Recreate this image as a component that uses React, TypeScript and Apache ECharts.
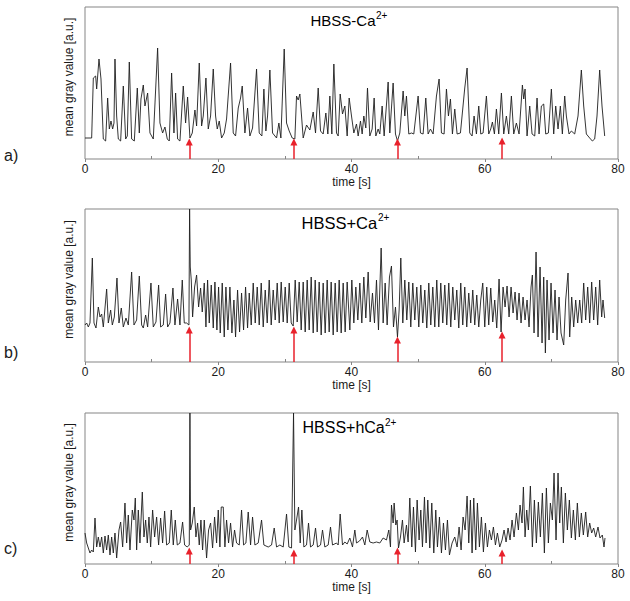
import React, { useEffect, useRef } from "react";
import * as echarts from "echarts";

const timeTicks = [0, 20, 40, 60, 80];
const minorTimeTicks = [10, 30, 50, 70];
const arrowTimes = [15.65, 31.35, 46.9, 62.6];
const arrowTipsA = [17, 17, 17, 18];
const arrowTipsB = [32, 32, 22, 27];
const arrowTipsC = [13, 11, 13, 11];
const titleTexts = ["HBSS-Ca", "HBSS+Ca", "HBSS+hCa"];
const titleSup = "2+";
const panelLetters = ["a)", "b)", "c)"];
const xName = "time [s]";
const yName = "mean gray value [a.u.]";

// panel a: HBSS-Ca2+  [time s, mean gray value a.u.]
const panelA: [number, number][] = [
  [0, 21], [1.0, 21], [1.25, 81], [1.6, 83], [1.75, 70], [2.1, 100], [2.4, 80], [2.75, 20], [3.1, 18], [3.4, 61],
  [3.65, 30], [3.9, 38], [4.15, 30], [4.35, 36], [4.5, 100], [4.75, 43], [5.0, 20], [5.35, 18], [5.75, 73], [6.1, 20],
  [6.35, 23], [6.65, 97], [7.0, 20], [7.4, 18], [7.85, 71], [8.15, 26], [8.4, 60], [8.75, 74], [9.0, 53], [9.4, 66],
  [9.75, 26], [10.25, 20], [10.9, 111], [11.25, 36], [11.65, 26], [12.0, 32], [12.35, 20], [12.65, 18], [13.0, 86], [13.35, 26],
  [13.6, 66], [13.9, 20], [14.25, 18], [14.75, 73], [15.1, 36], [15.4, 62], [15.75, 21], [16.1, 26], [16.5, 49], [16.75, 33],
  [17.15, 96], [17.5, 33], [17.75, 43], [18.15, 81], [18.5, 30], [18.85, 43], [19.25, 90], [19.6, 43], [19.85, 30], [20.15, 38],
  [20.5, 21], [20.9, 26], [21.25, 40], [21.85, 96], [22.25, 26], [22.6, 23], [23.0, 51], [23.35, 61], [23.6, 73], [24.0, 26],
  [24.4, 51], [24.75, 23], [25.15, 31], [25.75, 90], [26.15, 26], [26.55, 23], [26.85, 70], [27.15, 28], [27.4, 43], [27.75, 89],
  [28.15, 26], [28.75, 21], [29.1, 36], [29.4, 21], [29.9, 110], [30.25, 36], [30.65, 28], [31.1, 21], [31.5, 20], [31.75, 63],
  [32.0, 59], [32.25, 65], [32.5, 43], [32.75, 21], [33.25, 34], [33.75, 29], [34.25, 47], [34.6, 26], [35.0, 71], [35.35, 28],
  [35.75, 25], [36.15, 46], [36.45, 25], [36.75, 63], [37.05, 25], [37.35, 95], [37.75, 26], [38.0, 23], [38.3, 65], [38.65, 45],
  [39.0, 53], [39.35, 23], [39.65, 61], [40.0, 43], [40.35, 26], [40.75, 35], [41.0, 23], [41.35, 38], [41.6, 25], [41.85, 43],
  [42.15, 31], [42.4, 71], [42.75, 23], [43.1, 30], [43.4, 61], [43.65, 23], [44.0, 30], [44.25, 25], [44.6, 53], [44.9, 23],
  [45.5, 77], [45.75, 26], [46.25, 76], [46.6, 25], [46.9, 18], [47.25, 26], [47.75, 68], [48.0, 43], [48.25, 63], [48.6, 25],
  [49.0, 26], [49.35, 25], [50.0, 63], [50.35, 26], [50.75, 25], [51.15, 61], [51.5, 25], [51.85, 30], [52.25, 25], [52.75, 63],
  [53.15, 80], [53.5, 26], [53.9, 25], [54.25, 70], [54.55, 43], [54.85, 60], [55.15, 25], [55.5, 50], [55.85, 25], [56.35, 26],
  [57.0, 71], [57.35, 91], [57.75, 26], [58.1, 23], [58.4, 43], [58.75, 25], [59.1, 53], [59.4, 25], [59.75, 26], [60.25, 63],
  [60.6, 25], [60.9, 30], [61.15, 37], [61.45, 25], [61.75, 50], [62.1, 25], [62.5, 66], [62.85, 25], [63.25, 43], [63.6, 25],
  [64.0, 63], [64.35, 25], [64.75, 36], [65.15, 25], [65.65, 74], [65.85, 60], [66.05, 70], [66.35, 23], [66.75, 53], [67.1, 25],
  [67.5, 23], [67.85, 61], [68.15, 25], [68.5, 53], [68.85, 55], [69.15, 25], [69.55, 26], [70.0, 70], [70.35, 25], [70.65, 53],
  [71.0, 30], [71.35, 53], [71.65, 25], [72.0, 63], [72.25, 43], [72.65, 25], [73.0, 28], [73.5, 25], [74.0, 43], [74.5, 89],
  [74.85, 53], [75.25, 25], [75.75, 21], [76.15, 18], [76.5, 20], [76.85, 43], [77.25, 89], [77.6, 53], [78.0, 23],
];

// panel b: HBSS+Ca2+
const panelB: [number, number][] = [
  [0, 37], [0.25, 39], [0.5, 35], [0.75, 39], [1.1, 104], [1.35, 39], [1.65, 34], [2.0, 55], [2.25, 45], [2.5, 48],
  [2.75, 35], [3.25, 73], [3.5, 39], [3.85, 52], [4.1, 37], [4.4, 45], [4.8, 84], [5.1, 39], [5.45, 54], [5.75, 35],
  [6.15, 44], [6.5, 37], [7.0, 90], [7.35, 37], [7.75, 42], [8.15, 86], [8.5, 37], [8.75, 34], [9.1, 47], [9.4, 35],
  [9.9, 79], [10.25, 35], [10.65, 40], [11.05, 77], [11.35, 35], [11.75, 37], [12.1, 68], [12.4, 35], [12.75, 39], [13.2, 74],
  [13.5, 37], [13.9, 63], [14.25, 37], [14.6, 82], [14.9, 39], [15.25, 39], [15.6, 37], [15.7, 153], [15.8, 95], [15.95, 82],
  [16.15, 45], [16.45, 75], [16.75, 87], [17.05, 55], [17.35, 74], [17.6, 50], [17.9, 79], [18.15, 35], [18.4, 82], [18.65, 39],
  [18.95, 77], [19.25, 34], [19.5, 80], [19.8, 32], [20.05, 75], [20.3, 29], [20.6, 79], [20.9, 25], [21.15, 75], [21.45, 32],
  [21.75, 75], [22.05, 29], [22.35, 62], [22.6, 25], [22.9, 72], [23.2, 30], [23.5, 69], [23.8, 32], [24.1, 75], [24.4, 34],
  [24.65, 69], [24.95, 37], [25.25, 79], [25.55, 39], [25.85, 75], [26.15, 37], [26.45, 79], [26.75, 35], [27.05, 72], [27.35, 39],
  [27.65, 82], [27.95, 37], [28.25, 72], [28.55, 42], [28.85, 79], [29.15, 39], [29.45, 80], [29.75, 40], [30.05, 75], [30.35, 39],
  [30.65, 79], [30.95, 39], [31.25, 36], [31.55, 82], [31.85, 40], [32.15, 80], [32.45, 32], [32.75, 80], [33.05, 30], [33.35, 82],
  [33.65, 32], [33.95, 85], [34.25, 29], [34.55, 82], [34.85, 30], [35.15, 80], [35.45, 27], [35.75, 79], [36.05, 29], [36.35, 82],
  [36.65, 30], [36.95, 80], [37.25, 27], [37.55, 79], [37.85, 30], [38.15, 82], [38.45, 29], [38.75, 79], [39.05, 30], [39.35, 80],
  [39.75, 32], [40.05, 82], [40.35, 39], [40.65, 75], [40.95, 42], [41.25, 79], [41.55, 39], [41.85, 85], [42.15, 44], [42.5, 90],
  [42.8, 40], [43.15, 69], [43.45, 39], [43.75, 82], [44.05, 32], [44.45, 114], [44.75, 39], [45.05, 79], [45.35, 37], [45.7, 85],
  [46.0, 96], [46.3, 35], [46.6, 55], [46.9, 25], [47.15, 52], [47.4, 104], [47.7, 39], [48.0, 82], [48.3, 42], [48.6, 80],
  [48.9, 35], [49.2, 79], [49.5, 42], [49.8, 75], [50.1, 35], [50.4, 77], [50.7, 39], [51.0, 72], [51.3, 34], [51.6, 79],
  [51.9, 37], [52.2, 75], [52.5, 35], [52.8, 82], [53.1, 35], [53.4, 79], [53.7, 39], [54.0, 77], [54.3, 37], [54.6, 79],
  [54.9, 35], [55.2, 75], [55.5, 42], [55.8, 72], [56.1, 34], [56.4, 79], [56.7, 37], [57.0, 75], [57.3, 35], [57.6, 69],
  [57.9, 39], [58.2, 72], [58.5, 37], [58.8, 67], [59.1, 35], [59.4, 62], [59.7, 79], [60.0, 35], [60.3, 75], [60.6, 37],
  [60.9, 74], [61.2, 40], [61.5, 62], [61.8, 34], [62.15, 83], [62.45, 30], [62.75, 75], [63.05, 55], [63.35, 76], [63.65, 45],
  [63.95, 75], [64.25, 49], [64.55, 70], [64.85, 42], [65.15, 69], [65.45, 39], [65.75, 65], [66.05, 42], [66.35, 62], [66.65, 35],
  [66.95, 75], [67.15, 87], [67.4, 29], [67.7, 110], [68.0, 25], [68.3, 95], [68.6, 19], [68.85, 85], [69.1, 9], [69.35, 82],
  [69.65, 22], [69.95, 79], [70.25, 29], [70.55, 72], [70.85, 22], [71.15, 65], [71.45, 29], [71.85, 17], [72.15, 62], [72.5, 89],
  [72.75, 25], [73.05, 65], [73.35, 35], [73.65, 62], [73.95, 39], [74.25, 62], [74.55, 39], [74.85, 79], [75.15, 42], [75.45, 75],
  [75.75, 39], [76.05, 80], [76.35, 42], [76.65, 75], [76.95, 37], [77.25, 82], [77.55, 45], [77.75, 62], [78.0, 44],
];

// panel c: HBSS+hCa2+
const panelC: [number, number][] = [
  [0, 31], [0.25, 21], [0.75, 11], [1.0, 14], [1.25, 12], [1.5, 46], [1.75, 17], [2.0, 27], [2.25, 17], [2.5, 27],
  [2.75, 11], [3.0, 28], [3.25, 14], [3.5, 29], [3.75, 9], [4.0, 27], [4.25, 11], [4.5, 31], [4.75, 6], [5.1, 34],
  [5.35, 42], [5.65, 17], [6.0, 61], [6.25, 21], [6.5, 49], [6.75, 14], [7.1, 54], [7.35, 44], [7.55, 66], [7.75, 14],
  [8.0, 54], [8.25, 21], [8.6, 72], [8.85, 27], [9.1, 44], [9.35, 21], [9.6, 47], [9.85, 17], [10.15, 54], [10.45, 27],
  [10.75, 47], [11.05, 19], [11.35, 46], [11.65, 21], [11.95, 53], [12.25, 19], [12.65, 21], [12.95, 54], [13.25, 19], [13.55, 44],
  [13.85, 19], [14.25, 21], [14.65, 42], [14.95, 19], [15.35, 17], [15.65, 19], [15.75, 151], [15.85, 34], [16.1, 41], [16.4, 57],
  [16.65, 27], [16.9, 41], [17.15, 19], [17.4, 44], [17.65, 14], [17.9, 44], [18.25, 6], [18.55, 34], [18.85, 41], [19.15, 16],
  [19.45, 47], [19.75, 21], [20.0, 54], [20.25, 17], [20.45, 57], [20.75, 57], [21.0, 17], [21.25, 44], [21.55, 21], [21.85, 41],
  [22.15, 17], [22.45, 34], [22.75, 21], [23.15, 19], [23.5, 54], [23.8, 19], [24.15, 21], [24.5, 52], [24.85, 19], [25.15, 47],
  [25.5, 19], [26.0, 21], [26.5, 44], [26.85, 19], [27.5, 17], [28.0, 19], [28.4, 36], [28.75, 17], [29.25, 19], [29.75, 17],
  [30.25, 50], [30.6, 17], [31.0, 16], [31.3, 151], [31.5, 34], [31.75, 44], [32.05, 57], [32.3, 21], [32.55, 54], [32.85, 17],
  [33.25, 19], [33.55, 41], [33.85, 17], [34.25, 19], [34.6, 36], [34.9, 17], [35.35, 19], [35.65, 34], [36.0, 17], [36.5, 19],
  [36.85, 37], [37.15, 19], [37.75, 21], [38.0, 19], [38.3, 50], [38.65, 19], [39.0, 22], [39.35, 20], [39.75, 26], [40.15, 17],
  [40.5, 34], [40.75, 21], [41.2, 23], [41.65, 27], [42.0, 19], [42.35, 34], [42.75, 22], [43.25, 21], [43.75, 22], [44.25, 21],
  [44.75, 26], [45.25, 24], [45.6, 34], [45.85, 17], [46.0, 59], [46.25, 41], [46.4, 61], [46.65, 39], [46.85, 44], [47.05, 16],
  [47.35, 27], [47.65, 44], [47.9, 21], [48.25, 39], [48.5, 22], [48.75, 66], [49.05, 17], [49.3, 57], [49.6, 12], [49.85, 64],
  [50.15, 24], [50.4, 54], [50.65, 17], [50.95, 67], [51.2, 21], [51.45, 64], [51.75, 16], [52.05, 61], [52.35, 11], [52.65, 54],
  [52.9, 17], [53.2, 47], [53.5, 11], [53.8, 41], [54.1, 14], [54.4, 44], [54.7, 9], [55.1, 21], [55.5, 27], [55.85, 17],
  [56.15, 37], [56.45, 14], [56.75, 47], [57.05, 34], [57.35, 68], [57.6, 21], [57.85, 64], [58.1, 11], [58.35, 66], [58.65, 14],
  [58.9, 61], [59.2, 17], [59.5, 47], [59.8, 12], [60.1, 41], [60.4, 17], [60.7, 34], [61.0, 24], [61.3, 37], [61.6, 19],
  [61.9, 31], [62.25, 17], [62.6, 24], [62.9, 34], [63.2, 22], [63.5, 36], [63.8, 24], [64.1, 44], [64.4, 27], [64.75, 51],
  [65.05, 34], [65.3, 59], [65.6, 41], [65.8, 77], [66.05, 27], [66.3, 54], [66.55, 34], [66.85, 78], [67.15, 17], [67.45, 64],
  [67.75, 21], [68.05, 62], [68.35, 27], [68.65, 71], [68.95, 11], [69.25, 76], [69.55, 21], [69.85, 61], [70.15, 44], [70.4, 91],
  [70.7, 24], [71.0, 91], [71.25, 41], [71.5, 77], [71.8, 21], [72.1, 71], [72.4, 34], [72.7, 64], [73.0, 26], [73.3, 54],
  [73.6, 24], [73.9, 61], [74.2, 27], [74.5, 51], [74.8, 29], [75.15, 52], [75.45, 27], [75.75, 41], [76.05, 31], [76.35, 36],
  [76.65, 27], [77.0, 37], [77.3, 26], [77.65, 29], [77.9, 17], [78.05, 26],
];

const FONT = '"Liberation Sans", Arial, Helvetica, sans-serif';
const AXIS_COLOR = "#858585";
const TEXT_COLOR = "#1a1a1a";

export default function App() {
  const ref = useRef<HTMLDivElement>(null);

  useEffect(() => {
    if (!ref.current) return;
    const chart = echarts.init(ref.current, null, { renderer: "svg" });

    const layout = [
      { data: panelA, tips: arrowTipsA, top: 7, height: 152, tx: 310.5, ty: 20.5, fs: 15, supDx: 65.5, ly: 155 },
      { data: panelB, tips: arrowTipsB, top: 209, height: 153, tx: 301.5, ty: 222.5, fs: 16.5, supDx: 76.5, ly: 352 },
      { data: panelC, tips: arrowTipsC, top: 413, height: 151, tx: 302.5, ty: 427.5, fs: 16, supDx: 82.5, ly: 548 },
    ];
    const left = 85;
    const width = 533;

    const grids = layout.map((p) => ({
      left,
      top: p.top,
      width,
      height: p.height,
      show: true,
      borderColor: AXIS_COLOR,
      borderWidth: 1,
      backgroundColor: "transparent",
      containLabel: false,
    }));

    const xAxes: any[] = [];
    layout.forEach((p, i) => {
      xAxes.push({
        gridIndex: i,
        type: "value",
        min: timeTicks[0],
        max: timeTicks[timeTicks.length - 1],
        interval: 20,
        position: "bottom",
        axisLine: { show: false },
        axisTick: { show: true, inside: false, length: 3, lineStyle: { color: AXIS_COLOR } },
        axisLabel: { color: TEXT_COLOR, fontSize: 12, fontFamily: FONT, margin: 4 },
        splitLine: { show: false },
        name: xName,
        nameLocation: "middle",
        nameGap: 17,
        nameTextStyle: { color: TEXT_COLOR, fontSize: 12, fontFamily: FONT },
      });
      xAxes.push({
        gridIndex: i,
        type: "value",
        min: timeTicks[0],
        max: timeTicks[timeTicks.length - 1],
        position: "top",
        offset: -p.height,
        axisLine: { show: false },
        axisTick: { show: true, inside: false, length: 3, customValues: minorTimeTicks, lineStyle: { color: AXIS_COLOR } },
        axisLabel: { show: false },
        splitLine: { show: false },
      });
    });

    const yAxes = layout.map((p, i) => ({
      gridIndex: i,
      type: "value",
      min: 0,
      max: p.height,
      axisLine: { show: false },
      axisTick: { show: false },
      axisLabel: { show: false },
      splitLine: { show: false },
      name: yName,
      nameLocation: "middle",
      nameGap: 10,
      nameTextStyle: { color: TEXT_COLOR, fontSize: 12, fontFamily: FONT, padding: [0, 0, 0, 12] },
    }));

    const series = layout.map((p, i) => ({
      type: "line",
      xAxisIndex: i * 2,
      yAxisIndex: i,
      data: p.data,
      showSymbol: false,
      symbol: "none",
      clip: true,
      lineStyle: { color: "#1e1e1e", width: 0.9 },
      markLine: {
        silent: true,
        symbol: ["none", "triangle"],
        symbolSize: 7,
        label: { show: false },
        lineStyle: { color: "#e8212b", width: 1.5, type: "solid" },
        data: arrowTimes.map((t, k) => [{ coord: [t, 0] }, { coord: [t, p.tips[k]] }]),
      },
    }));

    const graphics: any[] = [];
    layout.forEach((p, i) => {
      graphics.push({
        type: "text",
        x: 4,
        y: p.ly,
        style: { text: panelLetters[i], font: `16px ${FONT}`, fill: TEXT_COLOR, align: "left", verticalAlign: "middle" },
      });
      graphics.push({
        type: "text",
        x: p.tx,
        y: p.ty,
        style: { text: titleTexts[i], font: `${p.fs}px ${FONT}`, fill: "#000", align: "left", verticalAlign: "middle" },
      });
      graphics.push({
        type: "text",
        x: p.tx + p.supDx,
        y: p.ty - 5.5,
        style: { text: titleSup, font: `10px ${FONT}`, fill: "#000", align: "left", verticalAlign: "middle" },
      });
    });

    chart.setOption({
      animation: false,
      backgroundColor: "#ffffff",
      grid: grids,
      xAxis: xAxes,
      yAxis: yAxes,
      series,
      graphic: graphics,
    });

    return () => chart.dispose();
  }, []);

  return <div ref={ref} style={{ position: "absolute", left: 0, top: 0, width: 630, height: 601 }} />;
}
